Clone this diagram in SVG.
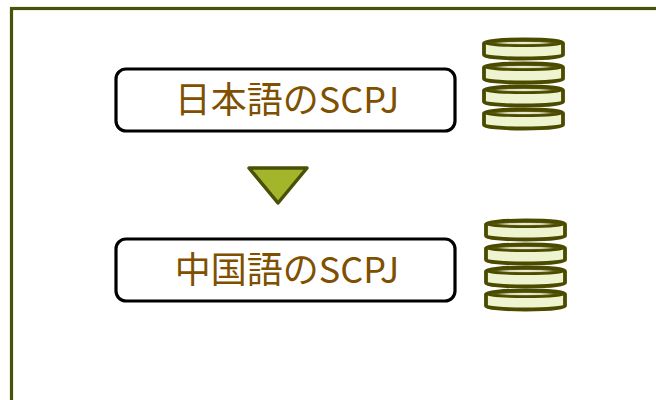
<svg xmlns="http://www.w3.org/2000/svg" xmlns:xlink="http://www.w3.org/1999/xlink" width="656" height="400" viewBox="0 0 656 400">
<style>
.frame{fill:none;stroke:#4a5209;stroke-width:3.2}
.box{fill:#fff;stroke:#000;stroke-width:3.2}
.lbl{font-family:"Noto Sans CJK JP","Noto Sans",sans-serif;font-size:36px;fill:#7f5000;text-anchor:middle}
.body{fill:#eef3d0;stroke:#4b4b00;stroke-width:3.8}
.top{fill:#5a5a0c;stroke:#4b4b00;stroke-width:2}
</style>
<defs>
<radialGradient id="hl" cx="0.5" cy="0.5" r="0.5">
<stop offset="0" stop-color="#ffffff" stop-opacity="1"/>
<stop offset="0.6" stop-color="#f4f6e0" stop-opacity="0.8"/>
<stop offset="1" stop-color="#ffffff" stop-opacity="0"/>
</radialGradient>
<g id="disc">
<path class="body" d="M0,5 A39.5,3.5 0 0 1 79,5 V17 A39.5,3.5 0 0 1 0,17 Z"/>
<ellipse class="top" cx="39.5" cy="5" rx="38.5" ry="3"/>
<ellipse cx="39.5" cy="5" rx="30" ry="1.6" fill="url(#hl)"/>
</g>
</defs>
<rect class="frame" x="11.5" y="8.5" width="700" height="450"/>
<g id="node-ja">
<rect class="box" x="116" y="69" width="339" height="62" rx="10"/>
<text class="lbl" x="287" y="113">日本語のSCPJ</text>
</g>
<g id="db-ja">
<use xlink:href="#disc" x="484" y="108"/>
<use xlink:href="#disc" x="484" y="85"/>
<use xlink:href="#disc" x="484" y="62"/>
<use xlink:href="#disc" x="484" y="38"/>
</g>
<g id="connectors">
<polygon points="249,168 307,168 278,203" fill="#a3b52a" stroke="#4b5008" stroke-width="3.5" stroke-linejoin="round"/>
</g>
<g id="node-zh">
<rect class="box" x="116" y="239" width="339" height="62" rx="10"/>
<text class="lbl" x="287" y="283">中国語のSCPJ</text>
</g>
<g id="db-zh">
<use xlink:href="#disc" x="486" y="289"/>
<use xlink:href="#disc" x="486" y="266"/>
<use xlink:href="#disc" x="486" y="243"/>
<use xlink:href="#disc" x="486" y="219"/>
</g>
</svg>
